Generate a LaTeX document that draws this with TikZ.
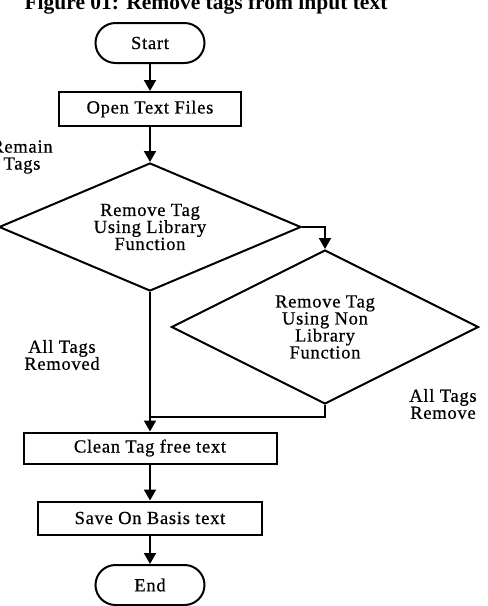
\documentclass[tikz,border=0pt]{standalone}
\usepackage{fontspec}
\setmainfont{Liberation Serif}[LetterSpace=4,FakeBold=0.6]
\newfontfamily\titlefont{Liberation Serif}
\usepackage{tikz}
\usetikzlibrary{shapes.geometric,positioning,arrows.meta}

\begin{document}
\begin{tikzpicture}[->,>={Triangle[length=11pt,width=12pt]}, x=1pt, y=1pt, line width=2pt, node distance=66pt, font=\fontsize{18.5}{17}\selectfont]
			\tikzstyle{terminal}=[draw=black,rectangle,rounded corners=20pt,minimum width=109pt,minimum height=40pt]
			\tikzstyle{process}=[draw=black,rectangle,minimum height=33pt]
			\tikzstyle{decision}=[draw=black,diamond,align=center,inner sep=0pt]
			\tikzstyle{note}=[align=center]

			\useasboundingbox (0,0) rectangle (488,-606);
			\node[anchor=base,font=\titlefont\fontsize{21.5}{24}\selectfont\bfseries] (title) at (206,-9) {Figure 01: Remove tags from input text};

			\node[terminal] (start) at (150,-43) {Start};
			\node[process,minimum width=182pt,minimum height=34pt] (open) [below of=start] {Open Text Files};
			\node[decision,aspect=2.36,minimum width=302pt,minimum height=128pt] (dec1) [below of=open, node distance=118pt] {Remove Tag\\Using Library\\Function};
			\node[decision,aspect=2,minimum width=307pt,minimum height=154pt] (dec2) [on grid, below right=100pt and 175pt of dec1] {Remove Tag\\Using Non\\Library\\Function};
			\node[process,minimum width=253pt,minimum height=31pt] (clean) [below of=dec1, node distance=221pt] {Clean Tag free text};
			\node[process,minimum width=224pt] (save) [below of=clean, node distance=70pt] {Save On Basis text};
			\node[terminal] (end) [below of=save, node distance=67pt] {End};
			\coordinate[below of=dec1, node distance=190pt] (merge);

			\node[note] (remain) at (22,-157) {Remain\\Tags};
			\node[note] (removed) at (62,-355) {All Tags\\Removed};
			\node[note] (removedB) at (443,-404) {All Tags\\Remove};

			\draw[->] (start) -- (open);
			\draw[->] (open) -- (dec1);
			\draw[->] (dec1.east) -| (dec2.north);
			\draw[->] (dec1.south) -- (clean.north);
			\draw[-] (dec2.south) |- (merge);
			\draw[->] (clean) -- (save);
			\draw[->] (save) -- (end);
		\end{tikzpicture}
\end{document}
